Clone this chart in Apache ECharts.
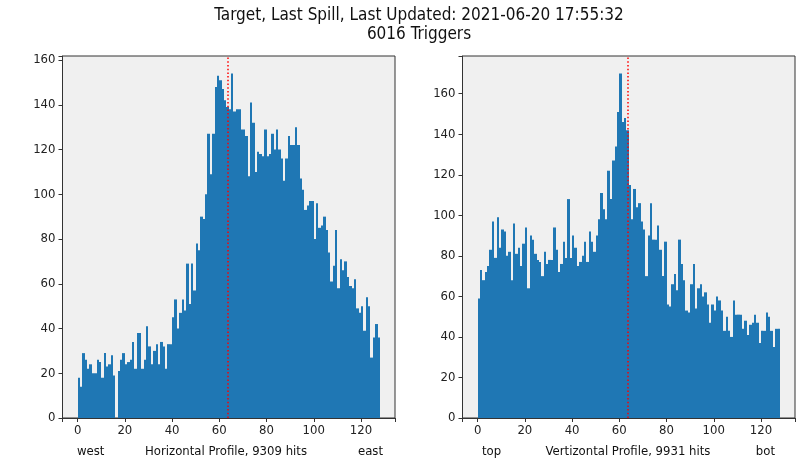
<!DOCTYPE html>
<html>
<head>
<meta charset="utf-8">
<script src="https://cdn.jsdelivr.net/npm/echarts@6/dist/echarts.min.js"></script>
<style>
	html, body { margin: 0; padding: 0; background: #ffffff; }
	#chart { width: 803px; height: 460px; }
</style>
</head>
<body>
<div id="chart"></div>
<script>

// hit counts per channel (128 channels each)
var horizontalCounts = [
	18, 14, 29, 26, 22, 24, 20, 20, 26, 25,
	18, 29, 23, 24, 28, 19, 0, 21, 26, 29,
	24, 25, 26, 34, 22, 38, 38, 22, 26, 41,
	32, 24, 30, 33, 24, 34, 32, 22, 33, 33,
	45, 53, 40, 47, 53, 48, 69, 51, 69, 57,
	78, 75, 90, 89, 100, 127, 109, 127, 148, 153,
	151, 147, 142, 139, 138, 154, 137, 138, 138, 129,
	129, 126, 108, 141, 132, 110, 119, 118, 117, 129,
	117, 118, 127, 120, 129, 120, 116, 106, 116, 126,
	122, 122, 130, 122, 107, 102, 93, 95, 97, 97,
	80, 96, 85, 86, 90, 84, 74, 61, 68, 84,
	58, 71, 66, 70, 63, 59, 58, 62, 49, 47,
	50, 39, 54, 50, 27, 36, 42, 36
];

var verticalCounts = [
	59, 73, 68, 72, 75, 83, 97, 79, 99, 84,
	93, 92, 80, 82, 68, 96, 81, 84, 75, 86,
	94, 64, 90, 88, 81, 78, 77, 70, 82, 76,
	78, 78, 94, 83, 72, 76, 87, 79, 108, 79,
	90, 84, 75, 77, 80, 87, 77, 92, 87, 82,
	90, 98, 111, 103, 98, 122, 108, 127, 134, 151,
	170, 146, 148, 142, 115, 98, 113, 104, 106, 97,
	93, 70, 90, 106, 88, 88, 95, 83, 70, 87,
	56, 55, 66, 71, 63, 88, 76, 68, 53, 52,
	66, 76, 54, 64, 66, 60, 62, 56, 47, 56,
	53, 60, 58, 53, 43, 50, 43, 40, 58, 51,
	51, 51, 44, 48, 41, 46, 47, 51, 47, 37,
	43, 43, 52, 50, 43, 35, 44, 44
];

var xTickValues = [0, 20, 40, 60, 80, 100, 120];
var yTickValues = [0, 20, 40, 60, 80, 100, 120, 140, 160];

// channel of the beam centre marker (red dotted line)
var centreChannel = 63.5;

var titleLines = ['Target, Last Spill, Last Updated: 2021-06-20 17:55:32', '6016 Triggers'];
var leftLabels = ['west', 'Horizontal Profile, 9309 hits', 'east'];
var rightLabels = ['top', 'Vertizontal Profile, 9931 hits', 'bot'];

var FONT = "'DejaVu Sans Condensed', 'Liberation Sans Narrow', 'Liberation Sans', sans-serif";
var BAR_COLOR = '#1f77b4';
var AXIS_COLOR = '#333333';

/**
 * Turns a list of counts into [channel, count] pairs for the custom series
 * @param {Array<number>} counts
 */
function toBins(counts){
	var out = [];
	for(var ii = 0; ii < counts.length; ii++){
		out.push([ii, counts[ii]]);
	}
	return out;
}

/**
 * Draws one histogram bin, one channel wide.
 * Edges are snapped to whole pixels so neighbouring bins leave no seam.
 */
function renderBin(params, api){
	var value = api.value(1);
	if(!value){
		return null;
	}
	var top = api.coord([api.value(0), value]);
	var bottom = api.coord([api.value(0) + 1, 0]);
	var x0 = Math.round(top[0]);
	var x1 = Math.round(bottom[0]);
	return {
		type: 'rect',
		shape: { x: x0, y: top[1], width: x1 - x0, height: bottom[1] - top[1] },
		style: { fill: BAR_COLOR }
	};
}

// no fixed interval here: ECharts picks 20 itself and keeps the ticks on multiples of it
function makeXAxis(gridIndex){
	return {
		type: 'value',
		gridIndex: gridIndex,
		min: -6.4,
		max: 134.4,
		splitNumber: 7,
		axisLine: { show: true, onZero: false, lineStyle: { color: AXIS_COLOR, width: 1 } },
		splitLine: { show: false },
		axisTick: { show: true, length: 4, lineStyle: { color: AXIS_COLOR } },
		axisLabel: { show: true, customValues: xTickValues, margin: 6, fontSize: 13, color: '#222', fontFamily: FONT }
	};
}

function makeYAxis(gridIndex, max, splitNumber){
	return {
		type: 'value',
		gridIndex: gridIndex,
		min: 0,
		max: max,
		splitNumber: splitNumber,
		axisLine: { show: true, onZero: false, lineStyle: { color: AXIS_COLOR, width: 1 } },
		splitLine: { show: false },
		axisTick: { show: true, length: 4, lineStyle: { color: AXIS_COLOR } },
		axisLabel: { show: true, customValues: yTickValues, margin: 7, fontSize: 13, color: '#222', fontFamily: FONT }
	};
}

function makeHistogram(index, counts){
	return {
		type: 'custom',
		xAxisIndex: index,
		yAxisIndex: index,
		renderItem: renderBin,
		data: toBins(counts),
		clip: true,
		silent: true,
		markLine: {
			silent: true,
			symbol: 'none',
			label: { show: false },
			lineStyle: { color: '#ff0000', type: [1.5, 2.2], width: 1.5 },
			data: [{ xAxis: centreChannel }]
		}
	};
}

function makeText(x, y, text, align, size){
	return {
		type: 'text',
		x: x,
		y: y,
		silent: true,
		style: {
			text: text,
			fill: '#111',
			font: size + 'px ' + FONT,
			align: align,
			verticalAlign: 'middle',
			textAlign: align,
			textVerticalAlign: 'middle'
		}
	};
}

var gridBox = { show: true, backgroundColor: '#f0f0f0', borderColor: AXIS_COLOR, borderWidth: 1, top: 56, height: 362, width: 332.5 };

var option = {
	animation: false,
	backgroundColor: '#ffffff',
	grid: [
		Object.assign({ left: 62.5 }, gridBox),
		Object.assign({ left: 462.5 }, gridBox)
	],
	xAxis: [makeXAxis(0), makeXAxis(1)],
	yAxis: [makeYAxis(0, 161.8, 8), makeYAxis(1, 178.6, 9)],
	series: [
		makeHistogram(0, horizontalCounts),
		makeHistogram(1, verticalCounts)
	],
	graphic: [
		makeText(419, 16, titleLines[0], 'center', 17),
		makeText(419, 35, titleLines[1], 'center', 17),
		makeText(77, 452, leftLabels[0], 'left', 13),
		makeText(226, 452, leftLabels[1], 'center', 13),
		makeText(383, 452, leftLabels[2], 'right', 13),
		makeText(482, 452, rightLabels[0], 'left', 13),
		makeText(628, 452, rightLabels[1], 'center', 13),
		makeText(775, 452, rightLabels[2], 'right', 13)
	]
};

var chart = echarts.init(document.getElementById('chart'), null, { renderer: 'canvas' });
chart.setOption(option);

</script>
</body>
</html>
